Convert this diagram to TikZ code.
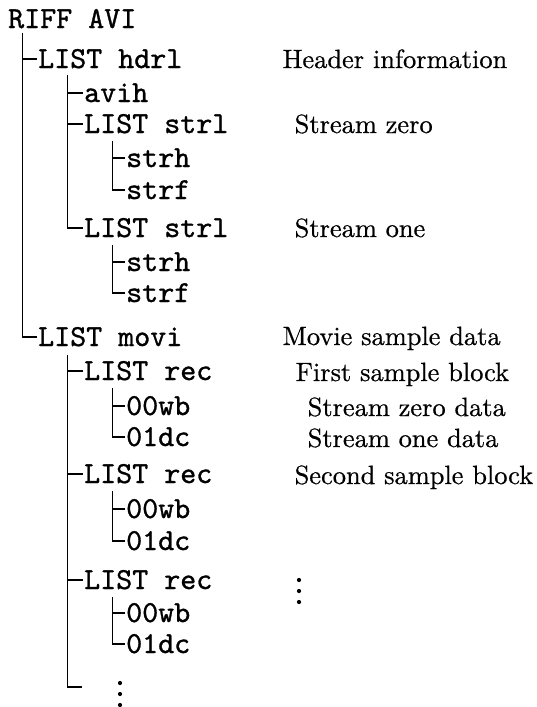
\documentclass[tikz,border=0pt]{standalone}
\usepackage{fontspec}
\newfontfamily\chunkfont{lmmono10-regular.otf}[FakeBold=1.0]
\newfontfamily\notefont{lmroman10-regular.otf}[FakeBold=0.6]
\begin{document}
\begin{tikzpicture}[x=1pt,y=-1pt,
  chunk/.style={anchor=base west, inner sep=0pt, font=\chunkfont\fontsize{30.5}{30.5}\selectfont, text height=18pt, text depth=0pt},
  note/.style={anchor=base west, inner sep=0pt, font=\notefont\fontsize{26.4}{26.4}\selectfont},
  branch/.style={line width=1.7pt},
  stub/.style={branch, shorten >=1.5pt},
  dotmark/.style={fill=black}]
\useasboundingbox (0,0) rectangle (536,707);

% chunk names
\node[chunk] (riff)  at (8,28)    {RIFF AVI};
\node[chunk] (hdrl)  at (38,68)   {LIST hdrl};
\node[chunk] (avih)  at (84,102)  {avih};
\node[chunk] (strlA) at (84,133)  {LIST strl};
\node[chunk] (strhA) at (126,167) {strh};
\node[chunk] (strfA) at (126,199) {strf};
\node[chunk] (strlB) at (84,237)  {LIST strl};
\node[chunk] (strhB) at (126,271) {strh};
\node[chunk] (strfB) at (126,302) {strf};
\node[chunk] (movi)  at (38,346)  {LIST movi};
\node[chunk] (recA)  at (84,380)  {LIST rec};
\node[chunk] (wbA)   at (126,415) {00wb};
\node[chunk] (dcA)   at (126,446) {01dc};
\node[chunk] (recB)  at (84,483)  {LIST rec};
\node[chunk] (wbB)   at (126,518) {00wb};
\node[chunk] (dcB)   at (126,550) {01dc};
\node[chunk] (recC)  at (84,589)  {LIST rec};
\node[chunk] (wbC)   at (126,622) {00wb};
\node[chunk] (dcC)   at (126,653) {01dc};
\coordinate (more) at (81.5,687);

% notes
\node[note] (hdrlnote)  at (282.5,68)  {Header information};
\node[note] (strlAnote) at (294.5,133) {Stream zero};
\node[note] (strlBnote) at (294.5,237) {Stream one};
\node[note] (movinote)  at (282.5,345) {Movie sample data};
\node[note] (recAnote)  at (295.5,381) {First sample block};
\node[note] (wbAnote)   at (307.5,416) {Stream zero data};
\node[note] (dcAnote)   at (307.5,447) {Stream one data};
\node[note] (recBnote)  at (294.5,484) {Second sample block};

% tree branches
\coordinate (riffv)  at (22.5,33);
\coordinate (hdrlv)  at (67.5,75);
\coordinate (strlAv) at (112.5,141);
\coordinate (strlBv) at (112.5,245);
\coordinate (moviv)  at (67.5,355);
\coordinate (recAv)  at (112.5,388);
\coordinate (recBv)  at (112.5,491);
\coordinate (recCv)  at (112.5,597);

\draw[stub] (riffv) |- (movi.west);
\draw[stub] (riffv |- hdrl.west) -- (hdrl.west);

\draw[stub] (hdrlv) |- (strlB.west);
\draw[stub] (hdrlv |- avih.west) -- (avih.west);
\draw[stub] (hdrlv |- strlA.west) -- (strlA.west);

\draw[stub] (strlAv) |- (strfA.west);
\draw[stub] (strlAv |- strhA.west) -- (strhA.west);

\draw[stub] (strlBv) |- (strfB.west);
\draw[stub] (strlBv |- strhB.west) -- (strhB.west);

\draw[branch] (moviv) |- (more);
\draw[stub] (moviv |- recA.west) -- (recA.west);
\draw[stub] (moviv |- recB.west) -- (recB.west);
\draw[stub] (moviv |- recC.west) -- (recC.west);

\draw[stub] (recAv) |- (dcA.west);
\draw[stub] (recAv |- wbA.west) -- (wbA.west);
\draw[stub] (recBv) |- (dcB.west);
\draw[stub] (recBv |- wbB.west) -- (wbB.west);
\draw[stub] (recCv) |- (dcC.west);
\draw[stub] (recCv |- wbC.west) -- (wbC.west);

% continuation dots
\fill[dotmark] (299,580) circle (2.1);
\fill[dotmark] (299,591) circle (2.1);
\fill[dotmark] (299,602) circle (2.1);
\fill[dotmark] (120,683) circle (2.1);
\fill[dotmark] (120,694) circle (2.1);
\fill[dotmark] (120,705) circle (2.1);
\end{tikzpicture}
\end{document}
